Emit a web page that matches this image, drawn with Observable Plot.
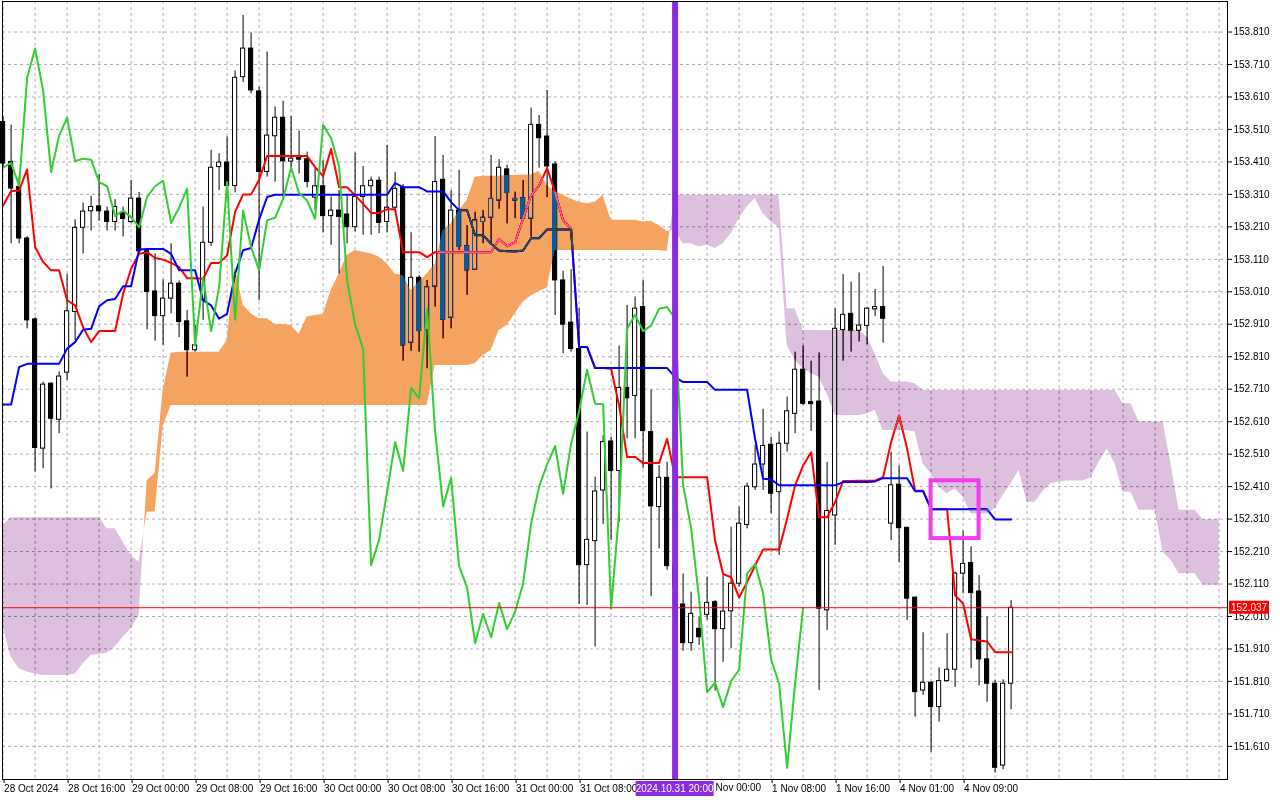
<!DOCTYPE html>
<html>
<head>
<meta charset="utf-8">
<script src="https://cdn.jsdelivr.net/npm/d3@7"></script>
<script src="https://cdn.jsdelivr.net/npm/@observablehq/plot@0.6"></script>
<style>
  html, body { margin: 0; padding: 0; background: #fff; }
  #chart svg { display: block; }
</style>
</head>
<body>
<div id="chart"></div>
<script>
// USDJPY H1, bar 0 = 28 Oct 08:00 ... bar 126 = 4 Nov 14:00
const opens = [153.533,153.410,153.333,153.174,152.925,152.527,152.727,152.616,152.761,152.948,
153.207,153.258,153.273,153.257,153.225,153.253,153.225,153.297,153.135,153.011,
152.935,152.989,153.035,152.919,152.830,152.984,153.161,153.394,153.408,153.336,
153.671,153.759,153.627,153.379,153.489,153.546,153.411,153.422,153.418,153.300,
153.335,153.243,153.260,153.248,153.209,153.302,153.335,153.352,153.225,153.269,
153.330,152.853,153.053,152.891,153.026,153.355,152.930,153.260,153.150,153.078,
153.225,153.238,153.291,153.387,153.296,153.298,153.235,153.524,153.488,153.402,
153.045,152.915,152.834,152.168,152.242,152.398,152.549,152.458,152.714,152.689,
152.963,152.578,152.347,152.437,152.165,152.047,151.928,151.972,152.015,152.054,
151.971,152.026,152.111,152.292,152.408,152.478,152.539,152.393,152.542,152.634,
152.770,152.670,152.672,152.029,152.321,152.892,152.942,152.890,152.905,152.956,
152.963,152.296,152.416,152.283,152.068,151.782,151.806,151.731,151.811,151.846,
152.142,152.175,152.087,151.878,151.803,151.551,151.803];
const highs = [153.550,153.523,153.363,153.180,152.930,152.732,152.730,152.763,153.064,153.232,
153.283,153.304,153.372,153.271,153.294,153.271,153.353,153.316,153.143,153.127,
153.047,153.158,153.043,152.953,152.907,153.271,153.446,153.435,153.487,153.690,
153.861,153.807,153.640,153.748,153.579,153.597,153.550,153.505,153.440,153.389,
153.414,153.302,153.322,153.310,153.437,153.396,153.363,153.363,153.461,153.377,
153.340,153.192,153.060,153.045,153.488,153.430,153.322,153.384,153.214,153.255,
153.260,153.430,153.417,153.400,153.317,153.353,153.576,153.553,153.630,153.410,
153.073,153.078,152.958,152.578,152.439,152.567,152.562,152.843,152.968,152.994,
153.045,152.708,152.475,152.485,152.230,152.141,152.085,152.008,152.131,152.059,
152.141,152.285,152.347,152.421,152.537,152.648,152.562,152.578,152.686,152.824,
152.843,152.796,152.822,152.485,152.958,153.063,153.040,153.068,152.962,153.017,
153.088,152.516,152.473,152.285,152.070,151.960,151.810,151.852,151.957,152.147,
152.272,152.224,152.136,152.008,151.813,151.815,152.059];
const lows = [153.390,153.158,153.158,152.896,152.455,152.465,152.403,152.573,152.737,152.860,
153.127,153.197,153.227,153.197,153.197,153.179,153.220,153.127,152.893,152.858,
152.845,152.942,152.869,152.747,152.825,152.922,153.150,153.322,153.312,153.315,
153.654,153.620,152.983,153.363,153.348,153.296,153.384,153.373,153.330,153.260,
153.191,153.153,153.065,153.158,153.194,153.184,153.184,153.189,153.191,153.260,
152.796,152.827,152.824,152.773,152.963,152.865,152.896,153.137,152.999,153.076,
153.158,153.158,153.264,153.219,153.235,153.230,153.178,153.391,153.300,152.937,
152.819,152.824,152.047,152.044,151.916,152.293,152.244,152.300,152.557,152.557,
152.465,152.072,152.218,152.152,152.060,151.903,151.903,151.921,151.998,151.780,
151.869,151.911,152.100,152.280,152.398,152.398,152.326,152.198,152.516,152.573,
152.660,152.580,151.782,151.967,152.229,152.796,152.824,152.855,152.847,152.934,
152.852,152.244,152.175,151.998,151.700,151.767,151.592,151.685,151.808,151.792,
152.080,151.850,151.796,151.746,151.528,151.538,151.723];
const closes = [153.405,153.328,153.174,152.922,152.529,152.724,152.619,152.749,152.950,153.207,
153.257,153.271,153.258,153.225,153.271,153.234,153.297,153.135,153.009,152.935,
152.989,153.035,152.917,152.830,152.845,153.161,153.392,153.408,153.336,153.669,
153.759,153.630,153.379,153.491,153.546,153.412,153.420,153.417,153.348,153.335,
153.243,153.260,153.240,153.209,153.302,153.335,153.352,153.222,153.269,153.327,
152.845,153.053,152.889,153.024,153.348,152.924,153.260,153.148,153.076,153.230,
153.238,153.296,153.392,153.314,153.291,153.235,153.524,153.483,153.396,153.045,
152.909,152.834,152.168,152.246,152.395,152.547,152.458,152.714,152.682,152.958,
152.581,152.349,152.437,152.165,152.100,151.928,152.018,151.946,152.052,151.971,
152.025,152.111,152.296,152.410,152.478,152.535,152.388,152.542,152.642,152.770,
152.665,152.664,152.034,152.335,152.896,152.939,152.889,152.906,152.958,152.963,
152.927,152.414,152.282,152.065,151.777,151.806,151.731,151.811,151.846,152.142,
152.172,152.082,151.878,151.803,151.544,151.803,152.037];

// Ichimoku lines
const tenkan = [153.276,153.320,153.322,153.387,153.148,153.102,153.076,153.076,152.984,152.968,
152.901,152.855,152.889,152.889,152.889,153.004,153.081,153.127,153.132,153.114,
153.109,153.099,153.086,153.052,153.052,153.050,153.099,153.099,153.122,153.256,
153.310,153.310,153.355,153.428,153.428,153.428,153.428,153.428,153.428,153.394,
153.366,153.450,153.332,153.332,153.307,153.281,153.253,153.253,153.264,153.264,
153.132,153.132,153.132,153.117,153.132,153.132,153.132,153.132,153.132,153.132,
153.132,153.132,153.173,153.150,153.163,153.235,153.307,153.337,153.391,153.317,
153.230,153.204,152.840,152.840,152.775,152.775,152.773,152.660,152.501,152.501,
152.483,152.483,152.483,152.557,152.439,152.439,152.439,152.439,152.439,152.244,
152.141,152.131,152.068,152.116,152.167,152.216,152.216,152.216,152.311,152.414,
152.475,152.516,152.316,152.316,152.362,152.427,152.427,152.428,152.428,152.428,
152.439,152.547,152.629,152.527,152.397,152.397,152.340,152.340,152.340,152.075,
152.050,151.940,151.936,151.933,151.900,151.900,151.900];
const kijun = [152.663,152.663,152.778,152.788,152.788,152.788,152.788,152.788,152.835,152.855,
152.893,152.896,152.965,152.984,152.988,153.027,153.027,153.140,153.142,153.142,
153.142,153.127,153.076,153.076,153.076,152.984,152.968,152.927,152.942,153.066,
153.138,153.145,153.232,153.302,153.309,153.309,153.309,153.309,153.309,153.309,
153.309,153.309,153.309,153.309,153.309,153.309,153.309,153.309,153.309,153.345,
153.332,153.332,153.332,153.319,153.319,153.319,153.286,153.261,153.261,153.184,
153.184,153.158,153.137,153.135,153.134,153.137,153.175,153.175,153.202,153.202,
153.202,153.202,152.840,152.840,152.775,152.775,152.775,152.775,152.775,152.775,
152.775,152.775,152.775,152.775,152.747,152.732,152.732,152.732,152.732,152.708,
152.708,152.708,152.708,152.708,152.557,152.434,152.432,152.414,152.414,152.414,
152.414,152.414,152.414,152.414,152.414,152.424,152.424,152.424,152.424,152.426,
152.436,152.436,152.436,152.436,152.396,152.396,152.340,152.340,152.340,152.340,
152.340,152.340,152.340,152.340,152.309,152.309,152.309];
// Senkou spans, bars 0..152 (cloud runs 26 bars past the last candle)
const spanA = [151.977,151.885,151.849,151.839,151.833,151.828,151.828,151.828,151.828,151.833,
151.864,151.890,151.893,151.897,151.916,151.946,151.972,152.013,152.429,152.450,
152.706,152.821,152.824,152.824,152.824,152.824,152.824,152.824,152.860,153.086,
152.969,152.942,152.927,152.927,152.909,152.909,152.906,152.879,152.932,152.937,
152.940,153.014,153.065,153.122,153.137,153.132,153.127,153.117,153.096,153.065,
153.060,153.014,153.040,153.065,153.096,153.199,153.219,153.260,153.291,153.363,
153.366,153.366,153.366,153.368,153.368,153.370,153.370,153.381,153.338,153.317,
153.307,153.296,153.286,153.281,153.286,153.307,153.230,153.230,153.230,153.230,
153.225,153.227,153.214,153.196,153.199,153.158,153.158,153.148,153.153,153.143,
153.158,153.189,153.235,153.271,153.297,153.250,153.225,153.209,152.845,152.799,
152.773,152.758,152.747,152.696,152.629,152.629,152.629,152.629,152.634,152.645,
152.583,152.583,152.583,152.583,152.578,152.480,152.450,152.408,152.388,152.403,
152.378,152.326,152.326,152.326,152.342,152.383,152.419,152.460,152.362,152.362,
152.396,152.419,152.424,152.427,152.427,152.427,152.437,152.485,152.526,152.480,
152.393,152.393,152.337,152.337,152.337,152.208,152.183,152.142,152.142,152.142,
152.106,152.106,152.106];
const spanB = [152.290,152.314,152.314,152.314,152.314,152.314,152.314,152.314,152.314,152.314,
152.314,152.314,152.314,152.280,152.280,152.239,152.198,152.177,152.331,152.332,
152.594,152.660,152.660,152.660,152.660,152.660,152.660,152.660,152.660,152.660,
152.660,152.660,152.660,152.660,152.660,152.660,152.660,152.660,152.660,152.660,
152.660,152.660,152.660,152.660,152.660,152.660,152.660,152.660,152.660,152.660,
152.660,152.660,152.660,152.660,152.783,152.783,152.783,152.783,152.783,152.788,
152.814,152.829,152.891,152.906,152.942,152.978,152.997,153.011,153.021,153.137,
153.137,153.137,153.137,153.137,153.137,153.137,153.137,153.137,153.137,153.137,
153.137,153.137,153.137,153.134,153.307,153.307,153.307,153.307,153.307,153.307,
153.307,153.307,153.307,153.307,153.307,153.307,153.307,153.307,152.958,152.958,
152.891,152.891,152.891,152.891,152.891,152.891,152.891,152.891,152.870,152.819,
152.758,152.732,152.732,152.732,152.727,152.706,152.706,152.706,152.706,152.706,
152.706,152.706,152.706,152.706,152.706,152.706,152.706,152.706,152.706,152.706,
152.706,152.706,152.706,152.706,152.706,152.706,152.706,152.706,152.706,152.706,
152.665,152.665,152.609,152.609,152.609,152.609,152.477,152.337,152.337,152.337,
152.308,152.308,152.308];

const lastPrice = 152.037;
const markerBar = 84;
const markerLabel = "2024.10.31 20:00";
const boxBars = [116, 122];
const boxPrices = [152.250, 152.428];

const priceTicks = [151.61,151.71,151.81,151.91,152.01,152.11,152.21,152.31,152.41,152.51,152.61,
  152.71,152.81,152.91,153.01,153.11,153.21,153.31,153.41,153.51,153.61,153.71,153.81];
// the 31 Oct 16:00 label sits under the highlighted time label, and only
// "Nov 00:00" of the 1 Nov 00:00 label shows beside it
const timeTickBars = [0,8,16,24,32,40,48,56,64,72,96,104,112,120];
const timeTickLabels = ["28 Oct 2024","28 Oct 16:00","29 Oct 00:00","29 Oct 08:00","29 Oct 16:00",
  "30 Oct 00:00","30 Oct 08:00","30 Oct 16:00","31 Oct 00:00","31 Oct 08:00",
  "1 Nov 08:00","1 Nov 16:00","4 Nov 01:00","4 Nov 09:00"];
const partialTickLabel = "Nov 00:00";

const ORANGE = "#f4a460", LAVENDER = "#dcc0de";
// cloud is painted the MT way: a "difference" layer with the complementary colour,
// so candles and lines under it show inverted, like the terminal does
const invert = c => { const r = d3.rgb(c); return d3.rgb(255 - r.r, 255 - r.g, 255 - r.b).formatHex(); };
const ORANGE_INV = invert(ORANGE), LAVENDER_INV = invert(LAVENDER);

const bars = opens.map((o, i) => ({i, o, h: highs[i], l: lows[i], c: closes[i]}));
const tenkanPts = tenkan.map((v, i) => ({i, v}));
const kijunPts = kijun.map((v, i) => ({i, v}));
const chikouPts = closes.slice(26).map((v, i) => ({i, v}));

// split the cloud into bullish / bearish runs, cutting at the crossings
const cloud = [];
let run = 0;
spanA.forEach((a, i) => {
  const b = spanB[i];
  const up = a >= b;
  if (i > 0) {
    const upPrev = spanA[i - 1] >= spanB[i - 1];
    if (up !== upPrev) {
      const d0 = spanA[i - 1] - spanB[i - 1], d1 = a - b;
      const t = d0 / (d0 - d1);
      const xc = i - 1 + t, yc = spanA[i - 1] + t * (a - spanA[i - 1]);
      cloud.push({x: xc, a: yc, b: yc, run, up: upPrev});
      run++;
      cloud.push({x: xc, a: yc, b: yc, run, up});
    }
  }
  cloud.push({x: i, a, b, run, up});
});

const tickName = new Map(timeTickBars.map((b, k) => [b, timeTickLabels[k]]));
const gridStyle = {stroke: "#b6aeb6", strokeOpacity: 1, strokeDasharray: "3,3"};

const chart = Plot.plot({
  width: 1280,
  height: 800,
  marginLeft: 2,
  marginRight: 53,
  marginTop: 1,
  marginBottom: 21,
  style: {background: "white", fontFamily: "Liberation Sans, Arial, sans-serif", fontSize: "10px", color: "black"},
  x: {type: "linear", domain: [-0.075, 153.05]},
  y: {type: "linear", domain: [151.508, 153.904]},
  color: {type: "identity"},
  marks: [
    Plot.frame({fill: "white"}),
    Plot.gridX(d3.range(0, 153, 4), gridStyle),
    Plot.gridY(priceTicks, gridStyle),
    // white underlay so the grid does not show through the orange cloud
    Plot.areaY(cloud.filter(d => d.up), {x: "x", y1: "a", y2: "b", z: "run", fill: "white"}),
    // candles
    Plot.ruleX(bars, {x: "i", y1: "l", y2: "h", stroke: "black", strokeWidth: 1}),
    Plot.rect(bars, {
      x1: d => d.i - 0.26, x2: d => d.i + 0.26, y1: "o", y2: "c",
      fill: d => d.c >= d.o ? "white" : "black", stroke: "black", strokeWidth: 1
    }),
    Plot.line(tenkanPts, {x: "i", y: "v", stroke: "#ff0000", strokeWidth: 2, curve: "linear"}),
    Plot.line(kijunPts, {x: "i", y: "v", stroke: "#0000ff", strokeWidth: 2, curve: "linear"}),
    Plot.areaY(cloud, {
      x: "x", y1: "a", y2: "b", z: "run",
      fill: d => d.up ? ORANGE_INV : LAVENDER_INV,
      mixBlendMode: "difference"
    }),
    Plot.line(chikouPts, {x: "i", y: "v", stroke: "#32cd32", strokeWidth: 2, curve: "linear"}),
    Plot.ruleY([lastPrice], {stroke: "#ff0000", strokeWidth: 1}),
    Plot.rect([0], {x1: boxBars[0], x2: boxBars[1], y1: boxPrices[0], y2: boxPrices[1],
      fill: "none", stroke: "#f23cf2", strokeWidth: 4}),
    Plot.ruleX([markerBar], {stroke: "#8a2be2", strokeWidth: 6}),
    Plot.frame({stroke: "black"}),
    Plot.axisY(priceTicks, {anchor: "right", tickSize: 4, tickPadding: 2,
      tickFormat: d3.format(".3f"), fontSize: 10}),
    Plot.axisX(timeTickBars, {anchor: "bottom", tickSize: 4, tickPadding: 1,
      tickFormat: d => tickName.get(d), textAnchor: "start", dx: 1, fontSize: 10})
  ]
});

// current price label and the highlighted time label, placed through the plot scales
const sx = chart.scale("x"), sy = chart.scale("y");
const svg = d3.select(chart);
const plotRight = 1280 - 53;
const plotBottom = 800 - 21;
const py = sy.apply(lastPrice);
svg.append("rect").attr("x", plotRight + 2).attr("y", py - 6.5)
  .attr("width", 40).attr("height", 13).attr("fill", "#ff0000");
svg.append("text").attr("x", plotRight + 22).attr("y", py).attr("dy", "0.35em")
  .attr("text-anchor", "middle").attr("fill", "white").attr("font-size", 10)
  .text(d3.format(".3f")(lastPrice));
const mx = sx.apply(markerBar);
svg.append("rect").attr("x", mx - 39).attr("y", plotBottom + 2)
  .attr("width", 78).attr("height", 15).attr("fill", "#8a2be2");
svg.append("text").attr("x", mx).attr("y", plotBottom + 9.5).attr("dy", "0.35em")
  .attr("text-anchor", "middle").attr("fill", "white").attr("font-size", 10)
  .text(markerLabel);
svg.append("text").attr("x", mx + 41).attr("y", plotBottom + 5).attr("dy", "0.71em")
  .attr("text-anchor", "start").attr("fill", "black").attr("font-size", 10)
  .text(partialTickLabel);

d3.select('#chart').append(() => chart);
</script>
</body>
</html>
